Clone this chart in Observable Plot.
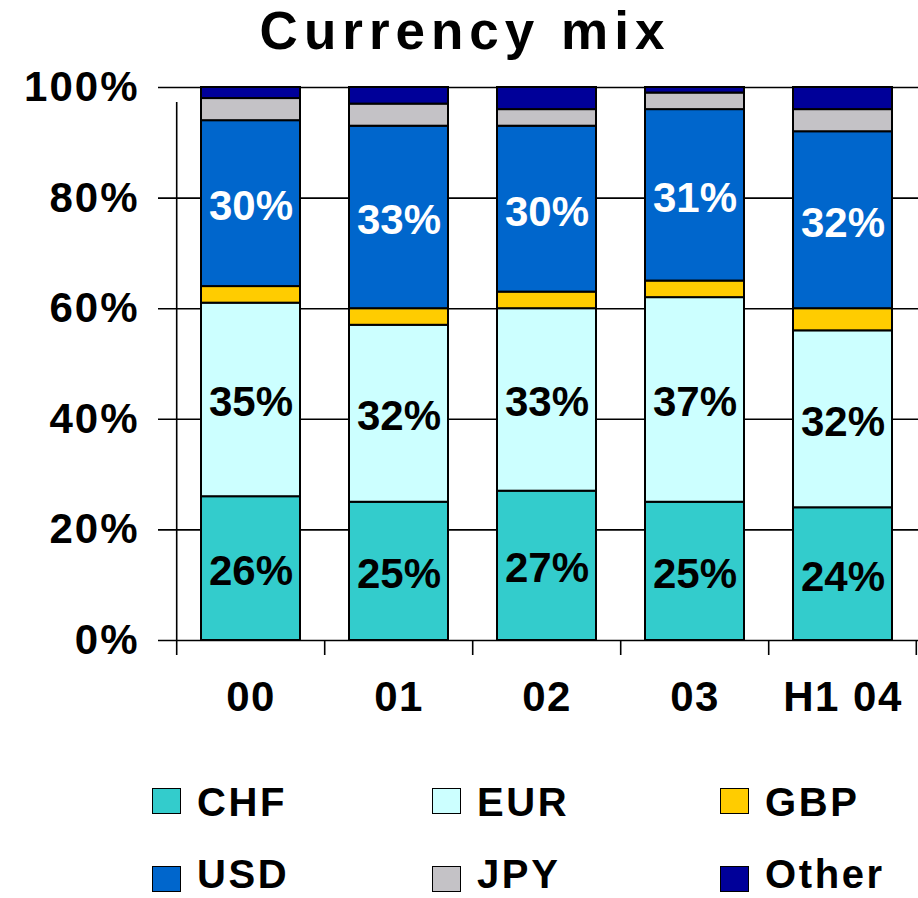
<!DOCTYPE html>
<html>
<head>
<meta charset="utf-8">
<script src="https://cdn.jsdelivr.net/npm/d3@7"></script>
<script src="https://cdn.jsdelivr.net/npm/@observablehq/plot@0.6"></script>
<style>
  html, body { margin: 0; padding: 0; background: #fff; }
  body { width: 918px; height: 898px; position: relative; overflow: hidden; font-family: Arial, "Liberation Sans", sans-serif; }
  #title { position: absolute; left: 0; top: 0; width: 930px; text-align: center; font-weight: bold; font-size: 53px; letter-spacing: 6px; line-height: 62px; color: #000; }
  #chart { position: absolute; left: 0; top: 75px; }
  #legend { position: absolute; left: 0; top: 0; width: 918px; height: 898px; pointer-events: none; }
  .lab { position: absolute; height: 34px; line-height: 34px; font-family: Arial, "Liberation Sans", sans-serif; font-weight: bold; font-size: 40px; letter-spacing: 2.6px; color: #000; white-space: nowrap; }
  .sw { position: absolute; width: 27px; height: 24px; border: 1.5px solid #000; box-sizing: content-box; }
</style>
</head>
<body>
<div id="title">Currency mix</div>
<div id="chart"></div>
<div id="legend"></div>
<script>
const categories = ["00", "01", "02", "03", "H1 04"];
const currencies = ["CHF", "EUR", "GBP", "USD", "JPY", "Other"];
const colors = ["#33CCCC", "#CCFFFF", "#FFCC00", "#0066CC", "#C4C2C6", "#000099"];
const CHF   = [26, 25, 27, 25, 24];
const EUR   = [35, 32, 33, 37, 32];
const GBP   = [3, 3, 3, 3, 4];
const USD   = [30, 33, 30, 31, 32];
const JPY   = [4, 4, 3, 3, 4];
const Other = [2, 3, 4, 1, 4];
const yTicks = [0, 20, 40, 60, 80, 100];

const series = {CHF, EUR, GBP, USD, JPY, Other};
const long = [];
currencies.forEach(c => categories.forEach((cat, i) => long.push({cat, currency: c, value: series[c][i]})));

const width = 918, height = 665;
const marginLeft = 175, marginRight = 0, marginTop = 12, marginBottom = 100;
const pIn = 0.33;
const step = (width - marginLeft - marginRight) / categories.length;
const font = "Arial, 'Liberation Sans', sans-serif";

const stackOpts = (extra) => Plot.stackY({x: "cat", y: "value", z: "currency", order: currencies, ...extra});

const chart = Plot.plot({
  width, height, marginLeft, marginRight, marginTop, marginBottom,
  style: {background: "#fff", overflow: "visible"},
  x: {domain: categories, paddingInner: pIn, paddingOuter: pIn / 2, axis: null},
  y: {domain: [0, 100], axis: null},
  color: {domain: currencies, range: colors},
  marks: [
    // gridlines + y ticks
    Plot.ruleY(yTicks, {y: d => d, stroke: "#000", strokeWidth: 1.6, insetLeft: -17}),
    // y axis line (left boundary)
    Plot.ruleX([categories[0]], {x: d => d, dx: -step / 2, y1: () => 0, y2: () => 100, stroke: "#000", strokeWidth: 1.6, insetBottom: -15}),
    // x category boundary ticks
    Plot.ruleX(categories, {x: d => d, dx: -step / 2, y1: () => 0, y2: () => 0, stroke: "#000", strokeWidth: 1.6, insetBottom: -15}),
    Plot.ruleX([categories[categories.length - 1]], {x: d => d, dx: step / 2 - 1, y1: () => 0, y2: () => 0, stroke: "#000", strokeWidth: 1.6, insetBottom: -15}),
    // bars
    Plot.barY(long, stackOpts({fill: "currency", stroke: "#000", strokeWidth: 2})),
    // value labels
    Plot.text(long, stackOpts({text: d => (d.currency === "CHF" || d.currency === "EUR") ? d.value + "%" : "", fill: "#000", fontSize: 42, fontWeight: "bold", fontFamily: font, dy: 3})),
    Plot.text(long, stackOpts({text: d => d.currency === "USD" ? d.value + "%" : "", fill: "#fff", fontSize: 42, fontWeight: "bold", fontFamily: font, dy: 3})),
    // y tick labels
    Plot.text(yTicks, {y: d => d, text: d => d + "%", frameAnchor: "left", textAnchor: "end", dx: -36, fontSize: 42, fontWeight: "bold", fontFamily: font}),
    // x tick labels
    Plot.text(categories, {x: d => d, text: d => d, frameAnchor: "bottom", dy: 70, fontSize: 42, fontWeight: "bold", fontFamily: font})
  ]
});
// letter spacing for axis labels (y labels: 3rd text group, x labels: 4th)
const textGroups = chart.querySelectorAll('g[aria-label="text"]');
if (textGroups[2]) textGroups[2].style.letterSpacing = "2px";
if (textGroups[3]) textGroups[3].style.letterSpacing = "1.5px";
document.getElementById("chart").appendChild(chart);

// legend
const legend = document.getElementById("legend");
const colX = [152, 432, 720];
const swatchY = [788, 866];
const labelY = [785, 857];
currencies.forEach((c, i) => {
  const col = i % 3, row = Math.floor(i / 3);
  const sw = document.createElement("div");
  sw.className = "sw";
  sw.style.left = colX[col] + "px";
  sw.style.top = swatchY[row] + "px";
  sw.style.background = colors[i];
  const lab = document.createElement("div");
  lab.className = "lab";
  lab.style.left = (colX[col] + 45) + "px";
  lab.style.top = labelY[row] + "px";
  lab.textContent = c;
  legend.appendChild(sw);
  legend.appendChild(lab);
});
</script>
</body>
</html>
